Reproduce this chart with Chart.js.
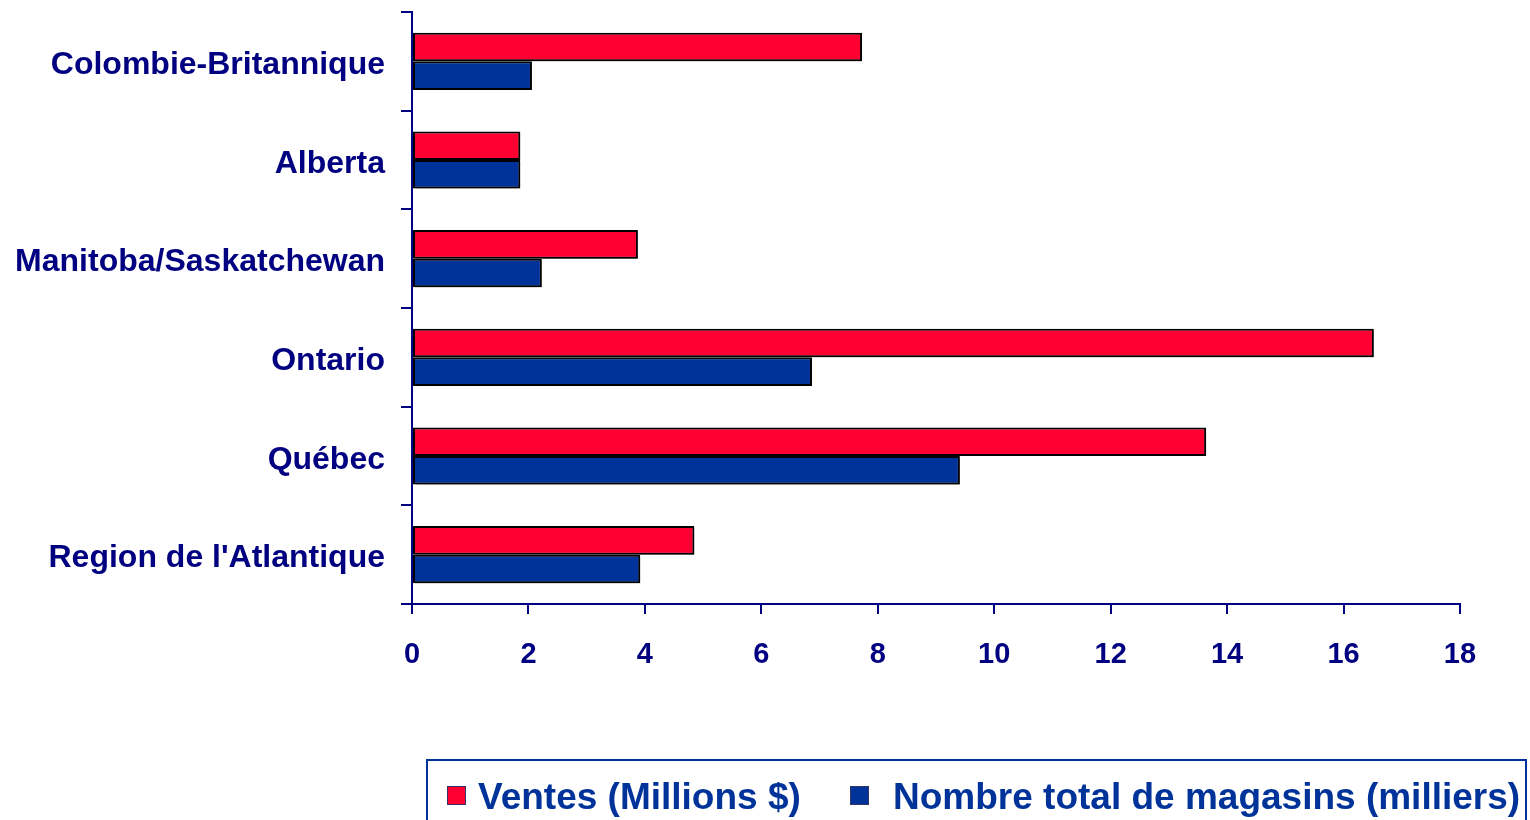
<!DOCTYPE html>
<html>
<head>
<meta charset="utf-8">
<script src="https://cdn.jsdelivr.net/npm/chart.js@4/dist/chart.umd.min.js"></script>
<style>
  html, body { margin: 0; padding: 0; background: #ffffff; }
  #wrap { width: 1530px; height: 820px; position: relative; }
</style>
</head>
<body>
<div id="wrap"><canvas id="chartRegions"></canvas></div>
<script>
// Régions, de haut en bas
const regions = [
    'Colombie-Britannique',
    'Alberta',
    'Manitoba/Saskatchewan',
    'Ontario',
    'Québec',
    "Region de l'Atlantique"
];

// Ventes (Millions $)
const ventes = [7.73, 1.86, 3.88, 16.52, 13.64, 4.85];

// Nombre total de magasins (milliers)
const magasins = [2.06, 1.86, 2.23, 6.87, 9.41, 3.92];

const seriesLabels = ['Ventes (Millions $)', 'Nombre total de magasins (milliers)'];
const xTicks = [0, 2, 4, 6, 8, 10, 12, 14, 16, 18];

const NAVY = '#000080';
const LEGEND_BLUE = '#003399';
const FONT = 'Liberation Sans, Arial, sans-serif';

// Ombre grise légère sous les barres
const barShadow = {
    id: 'barShadow',
    beforeDatasetsDraw(chart) {
        const c = chart.ctx;
        c.save();
        c.shadowColor = 'rgba(0,0,0,0.35)';
        c.shadowOffsetX = 2;
        c.shadowOffsetY = 2;
        c.shadowBlur = 1;
    },
    afterDatasetsDraw(chart) {
        chart.ctx.restore();
    }
};

// Légende encadrée en bas à droite
const boxedLegend = {
    id: 'boxedLegend',
    afterDraw(chart) {
        const c = chart.ctx;
        c.save();
        c.strokeStyle = LEGEND_BLUE;
        c.lineWidth = 2;
        c.strokeRect(427, 760, 1099, 80);

        c.font = 'bold 37px ' + FONT;
        c.textBaseline = 'middle';
        const items = [
            { x: 447, textX: 478 },
            { x: 850, textX: 893 }
        ];
        chart.data.datasets.forEach((ds, i) => {
            const it = items[i];
            c.fillStyle = ds.backgroundColor;
            c.fillRect(it.x, 786, 19, 19);
            c.strokeStyle = '#333366';
            c.lineWidth = 1;
            c.strokeRect(it.x + 0.5, 786.5, 18, 18);
            c.fillStyle = LEGEND_BLUE;
            c.fillText(ds.label, it.textX, 799);
        });
        c.restore();
    }
};

new Chart(document.getElementById('chartRegions'), {
    type: 'bar',
    data: {
        labels: regions,
        datasets: [
            {
                label: seriesLabels[0],
                data: ventes,
                backgroundColor: '#ff0033',
                borderColor: '#000000',
                borderWidth: 2,
                borderSkipped: false,
                categoryPercentage: 0.58,
                barPercentage: 1.0
            },
            {
                label: seriesLabels[1],
                data: magasins,
                backgroundColor: '#003399',
                borderColor: '#000000',
                borderWidth: 2,
                borderSkipped: false,
                categoryPercentage: 0.58,
                barPercentage: 1.0
            }
        ]
    },
    options: {
        indexAxis: 'y',
        responsive: true,
        maintainAspectRatio: false,
        animation: false,
        layout: { padding: { top: 12, right: 70, left: 0, bottom: 0 } },
        plugins: {
            legend: { display: false },
            tooltip: { enabled: false }
        },
        scales: {
            x: {
                min: 0,
                max: 18,
                afterBuildTicks: scale => { scale.ticks = xTicks.map(v => ({ value: v })); },
                afterFit: scale => { scale.height = 216; },
                border: { color: NAVY, width: 2 },
                grid: { drawOnChartArea: false, drawTicks: true, tickLength: 10, color: NAVY, lineWidth: 2 },
                ticks: {
                    color: NAVY,
                    padding: 24,
                    maxRotation: 0,
                    font: { family: FONT, size: 29, weight: 'bold' }
                }
            },
            y: {
                // largeur fixe et pas de marge pour la demi-hauteur des libellés
                afterFit: scale => {
                    scale.width = 412;
                    scale.paddingTop = 0;
                    scale.paddingBottom = 0;
                },
                border: { color: NAVY, width: 2 },
                grid: { offset: true, drawOnChartArea: false, drawTicks: true, tickLength: 11, color: NAVY, lineWidth: 2 },
                ticks: {
                    color: NAVY,
                    padding: 16,
                    labelOffset: 4,
                    font: { family: FONT, size: 32, weight: 'bold' }
                }
            }
        }
    },
    plugins: [barShadow, boxedLegend]
});
</script>
</body>
</html>
